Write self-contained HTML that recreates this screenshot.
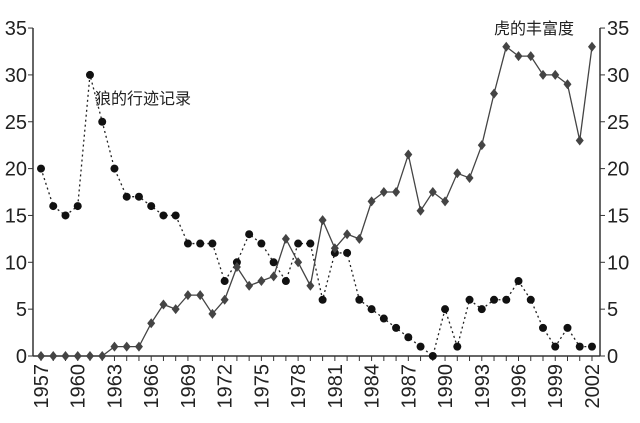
<!DOCTYPE html>
<html><head><meta charset="utf-8"><style>body{margin:0;background:#fff}svg{display:block}text{font-family:"Liberation Sans","Noto Sans CJK SC",sans-serif;fill:#222}</style></head>
<body><svg id="s" width="640" height="423" xmlns="http://www.w3.org/2000/svg"></svg>
<script>
const s=document.getElementById('s');
const X=y=>41+(y-1957)*12.244, Y=v=>356-v*9.37;
let h='';
h+='<line x1="33" y1="28" x2="33" y2="356" stroke="#333" stroke-width="1.5"/>';
h+='<line x1="600" y1="28" x2="600" y2="356" stroke="#333" stroke-width="1.5"/>';
h+='<line x1="33" y1="356" x2="600" y2="356" stroke="#333" stroke-width="1.5"/>';
for(let v=0;v<=35;v+=5){const y=Y(v);
h+=`<line x1="28" y1="${y}" x2="33" y2="${y}" stroke="#333"/><line x1="600" y1="${y}" x2="605" y2="${y}" stroke="#333"/>`;
h+=`<text x="27" y="${y+7}" font-size="20" text-anchor="end">${v}</text><text x="607" y="${y+7}" font-size="20">${v}</text>`;}
for(let yr=1957;yr<=2002;yr++){const x=X(yr);h+=`<line x1="${x}" y1="356" x2="${x}" y2="361" stroke="#333"/>`;
if((yr-1957)%3==0)h+=`<text transform="translate(${x+7},364) rotate(-90)" font-size="20" text-anchor="end">${yr}</text>`;}
const w=[20,16,15,16,30,25,20,17,17,16,15,15,12,12,12,8,10,13,12,10,8,12,12,6,11,11,6,5,4,3,2,1,0,5,1,6,5,6,6,8,6,3,1,3,1,1];
const t=[0,0,0,0,0,0,1,1,1,3.5,5.5,5,6.5,6.5,4.5,6,9.5,7.5,8,8.5,12.5,10,7.5,14.5,11.5,13,12.5,16.5,17.5,17.5,21.5,15.5,17.5,16.5,19.5,19,22.5,28,33,32,32,30,30,29,23,33];
h+=`<polyline fill="none" stroke="#222" stroke-width="1.3" stroke-dasharray="2,3" points="${w.map((v,i)=>X(1957+i)+','+Y(v)).join(' ')}"/>`;
h+=`<polyline fill="none" stroke="#444" stroke-width="1.3" points="${t.map((v,i)=>X(1957+i)+','+Y(v)).join(' ')}"/>`;
w.forEach((v,i)=>h+=`<circle cx="${X(1957+i)}" cy="${Y(v)}" r="4" fill="#111"/>`);
t.forEach((v,i)=>{const x=X(1957+i),y=Y(v);h+=`<polygon points="${x},${y-5} ${x+4},${y} ${x},${y+5} ${x-4},${y}" fill="#444"/>`});
h+='<text x="95" y="104" font-size="16">狼的行迹记录</text><text x="494" y="34" font-size="16">虎的丰富度</text>';
s.innerHTML=h;
</script></body></html>
